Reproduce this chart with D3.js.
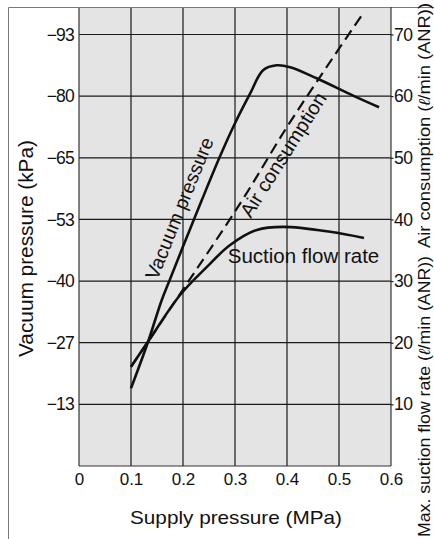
<!DOCTYPE html>
<html>
<head>
<meta charset="utf-8">
<script src="https://cdn.jsdelivr.net/npm/d3@7"></script>
<style>
  body { margin: 0; background: #fff; }
  svg { font-family: "Liberation Sans", Arial, Helvetica, sans-serif; display: block; }
</style>
</head>
<body>
<div id="chart"></div>
<script>
// supply pressure (MPa)
const xTicks = [0, 0.1, 0.2, 0.3, 0.4, 0.5, 0.6];
// right axis: flow (l/min ANR); left axis shares the same grid
const flowTicks = [10, 20, 30, 40, 50, 60, 70];
const vacuumTickLabels = ["−13", "−27", "−40", "−53", "−65", "−80", "−93"];

// curves, in right axis units
const vacuumX = [0.1, 0.133, 0.159, 0.175, 0.2, 0.236, 0.271, 0.3, 0.329, 0.354, 0.38, 0.406, 0.457, 0.529, 0.577];
const vacuumY = [12.6, 20.2, 26.9, 30.3, 35.6, 43.1, 50.2, 55.6, 60.4, 64.2, 65.0, 64.7, 62.9, 60.0, 58.2];

const airX = [0.1, 0.133, 0.191, 0.31, 0.4, 0.476, 0.546];
const airY = [16.1, 20.2, 27.5, 42.6, 55.0, 64.7, 73.4];

const suctionX = [0.1, 0.133, 0.194, 0.246, 0.29, 0.342, 0.393, 0.483, 0.548];
const suctionY = [16.1, 20.2, 27.7, 32.3, 35.8, 38.3, 38.8, 38.0, 37.0];

const W = 434, H = 539;
const margin = { top: 8, right: 43, bottom: 73, left: 79 };

const svg = d3.select("#chart").append("svg")
    .attr("width", W)
    .attr("height", H);

const x = d3.scaleLinear()
    .domain([0, 0.6])
    .range([margin.left, W - margin.right]);

const y = d3.scaleLinear()
    .domain([0, 74.3])
    .range([H - margin.bottom, margin.top]);

// outer frame (left + top)
svg.append("path")
    .attr("d", `M8.5,${H}V7.5H${W}`)
    .attr("fill", "none")
    .attr("stroke", "#7a7a7a")
    .attr("stroke-width", 1);

// plot background
svg.append("rect")
    .attr("x", x(0))
    .attr("y", y(74.3))
    .attr("width", x(0.6) - x(0))
    .attr("height", y(0) - y(74.3))
    .attr("fill", "#e4e4e4");

// grid
svg.append("g")
    .selectAll("line")
    .data(xTicks.slice(1, -1))
    .join("line")
    .attr("x1", d => x(d)).attr("x2", d => x(d))
    .attr("y1", y(74.3)).attr("y2", y(0))
    .attr("stroke", "#1a1a1a")
    .attr("stroke-width", 1.2);

svg.append("g")
    .selectAll("line")
    .data(flowTicks)
    .join("line")
    .attr("x1", x(0)).attr("x2", x(0.6))
    .attr("y1", d => y(d)).attr("y2", d => y(d))
    .attr("stroke", "#1a1a1a")
    .attr("stroke-width", 1.2);

// Axes
const bottom = svg.append("g")
    .attr("transform", `translate(0,${y(0)})`)
    .call(d3.axisBottom(x).tickValues(xTicks).tickSize(0).tickPadding(7)
        .tickFormat(d => d === 0 ? "0" : d.toFixed(1)));

const left = svg.append("g")
    .attr("transform", `translate(${x(0)},0)`)
    .call(d3.axisLeft(y).tickValues(flowTicks).tickSize(0).tickPadding(5)
        .tickFormat((d, i) => vacuumTickLabels[i]));

const right = svg.append("g")
    .attr("transform", `translate(${x(0.6)},0)`)
    .call(d3.axisRight(y).tickValues(flowTicks).tickSize(2.5).tickPadding(0.5));

[bottom, left, right].forEach(g => {
    g.select(".domain").attr("stroke", "#333").attr("stroke-width", 1.2);
    g.selectAll(".tick line").attr("stroke", "#1a1a1a").attr("stroke-width", 1.2);
    g.selectAll("text")
        .attr("font-family", "'Liberation Sans', Arial, sans-serif")
        .style("font-size", "17px")
        .attr("fill", "#111");
});
bottom.select(".domain").attr("d", `M${x(0)},0H${x(0.6)}`);
left.select(".domain").attr("d", `M0,${y(0)}V${y(74.3)}`);
right.select(".domain").attr("d", `M0,${y(0)}V${y(74.3) - 1}`);
left.selectAll("text").style("font-size", "17.5px").attr("letter-spacing", "-0.8px");
right.selectAll("text").style("font-size", "17.5px").attr("letter-spacing", "-0.6px");

// Curves
const line = d3.line()
    .x(d => x(d[0]))
    .y(d => y(d[1]))
    .curve(d3.curveCatmullRom.alpha(0.5));

svg.append("path")
    .datum(d3.zip(airX, airY))
    .attr("d", line)
    .attr("fill", "none")
    .attr("stroke", "#111")
    .attr("stroke-width", 2.2)
    .attr("stroke-dasharray", "11,6");

svg.append("path")
    .datum(d3.zip(suctionX, suctionY))
    .attr("d", line)
    .attr("fill", "none")
    .attr("stroke", "#111")
    .attr("stroke-width", 2.6);

svg.append("path")
    .datum(d3.zip(vacuumX, vacuumY))
    .attr("d", line)
    .attr("fill", "none")
    .attr("stroke", "#111")
    .attr("stroke-width", 2.6);

// Curve labels
svg.append("text")
    .attr("transform", `translate(${x(0.205)},${y(41.4)}) rotate(-68)`)
    .attr("text-anchor", "middle")
    .style("font-size", "19.5px")
    .attr("fill", "#111")
    .text("Vacuum pressure");

svg.append("text")
    .attr("transform", `translate(${x(0.404)},${y(49.9)}) rotate(-57.6)`)
    .attr("text-anchor", "middle")
    .style("font-size", "20px")
    .attr("fill", "#111")
    .text("Air consumption");

svg.append("text")
    .attr("x", x(0.286))
    .attr("y", y(32.9))
    .style("font-size", "20.5px")
    .attr("fill", "#111")
    .text("Suction flow rate");

// Axis titles
svg.append("text")
    .attr("transform", `translate(33,248.5) rotate(-90)`)
    .attr("text-anchor", "middle")
    .style("font-size", "21px")
    .attr("textLength", 217)
    .attr("lengthAdjust", "spacingAndGlyphs")
    .attr("fill", "#111")
    .text("Vacuum pressure (kPa)");

svg.append("text")
    .attr("x", (130 + 342) / 2)
    .attr("y", 524)
    .attr("text-anchor", "middle")
    .style("font-size", "18.5px")
    .attr("textLength", 212)
    .attr("lengthAdjust", "spacingAndGlyphs")
    .attr("fill", "#111")
    .text("Supply pressure (MPa)");

function rightTitle(text, y0, y1) {
    const t = svg.append("text")
        .attr("transform", `translate(430,${(y0 + y1) / 2}) rotate(-90)`)
        .attr("text-anchor", "middle")
        .style("font-size", "16px")
        .attr("textLength", y0 - y1)
        .attr("lengthAdjust", "spacingAndGlyphs")
        .attr("fill", "#111");
    const parts = text.split("ℓ");
    t.append("tspan").text(parts[0]);
    t.append("tspan").attr("font-style", "italic").text("ℓ");
    t.append("tspan").text(parts[1]);
}
rightTitle("Max. suction flow rate (ℓ/min (ANR))", 537, 256);
rightTitle("Air consumption (ℓ/min (ANR))", 248, 3);
</script>
</body>
</html>
